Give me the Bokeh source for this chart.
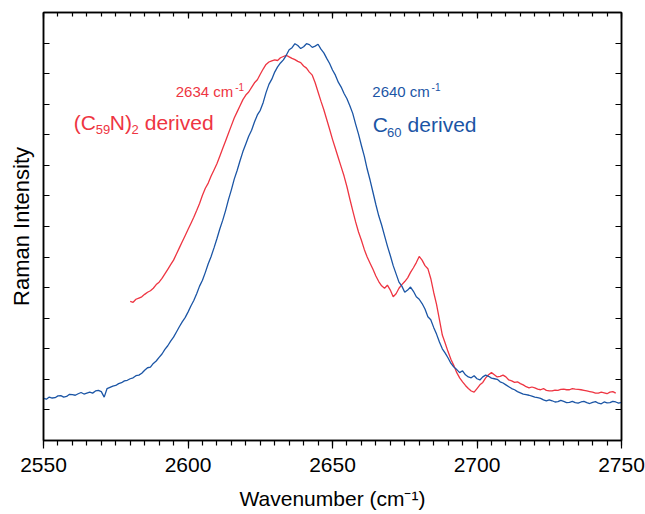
from bokeh.plotting import figure
from bokeh.models import Range1d, LinearAxis, SingleIntervalTicker, Label, CustomJSTickFormatter
from bokeh.embed import file_html
from bokeh.resources import INLINE

# ---------------- data ----------------
c60_start = 2550
c60_intensity = [
    1.38, 1.35, 1.42, 1.39, 1.40, 1.46, 1.47, 1.42, 1.44, 1.51,
    1.50, 1.48, 1.53, 1.57, 1.52, 1.55, 1.58, 1.55, 1.62, 1.64,
    1.60, 1.42, 1.70, 1.74, 1.78, 1.80, 1.86, 1.89, 1.95, 1.97,
    2.02, 2.05, 2.12, 2.14, 2.20, 2.30, 2.38, 2.40, 2.52, 2.60,
    2.72, 2.83, 2.98, 3.10, 3.25, 3.38, 3.55, 3.72, 3.88, 4.02,
    4.20, 4.40, 4.58, 4.80, 5.05, 5.24, 5.50, 5.78, 6.02, 6.30,
    6.60, 6.92, 7.20, 7.52, 7.88, 8.20, 8.55, 8.83, 9.15, 9.45,
    9.70, 9.95, 10.15, 10.42, 10.65, 10.80, 11.05, 11.38, 11.65, 11.82,
    12.05, 12.22, 12.35, 12.45, 12.60, 12.78, 12.85, 12.98, 12.92, 12.82,
    12.88, 12.98, 12.95, 12.86, 12.90, 12.96, 12.80, 12.68, 12.50, 12.33,
    12.12, 11.95, 11.72, 11.56, 11.35, 11.18, 10.95, 10.70, 10.35, 10.02,
    9.65, 9.30, 8.88, 8.52, 8.12, 7.72, 7.35, 7.05, 6.70, 6.36,
    6.05, 5.72, 5.45, 5.18, 5.05, 4.85, 4.92, 5.02, 4.88, 4.70,
    4.62, 4.48, 4.30, 4.05, 3.95, 3.70, 3.48, 3.22, 3.00, 2.86,
    2.70, 2.52, 2.40, 2.32, 2.22, 2.28, 2.15, 2.08, 2.05, 2.12,
    2.02, 1.98, 2.08, 2.14, 2.10, 2.04, 2.02, 2.00, 1.92, 1.88,
    1.82, 1.76, 1.70, 1.66, 1.60, 1.56, 1.52, 1.50, 1.48, 1.45,
    1.42, 1.40, 1.38, 1.33, 1.30, 1.33, 1.30, 1.26, 1.27, 1.31,
    1.28, 1.24, 1.25, 1.28, 1.24, 1.22, 1.26, 1.28, 1.24, 1.21,
    1.25, 1.27, 1.22, 1.20, 1.26, 1.23, 1.24, 1.28, 1.26, 1.22,
    1.25,
]
c60_wavenumber = [c60_start + i for i in range(len(c60_intensity))]

c59n_start = 2580
c59n_intensity = [
    4.55, 4.52, 4.62, 4.66, 4.70, 4.78, 4.85, 4.90, 4.98, 5.10,
    5.18, 5.30, 5.45, 5.60, 5.75, 5.90, 6.10, 6.30, 6.50, 6.70,
    6.90, 7.10, 7.30, 7.52, 7.75, 8.02, 8.25, 8.42, 8.65, 8.85,
    9.05, 9.30, 9.55, 9.80, 10.05, 10.30, 10.55, 10.75, 10.95, 11.15,
    11.30, 11.40, 11.55, 11.70, 11.80, 11.98, 12.15, 12.30, 12.38, 12.42,
    12.45, 12.43, 12.52, 12.56, 12.60, 12.55, 12.50, 12.46, 12.40, 12.36,
    12.25, 12.18, 12.05, 11.95, 11.70, 11.40, 11.10, 10.82, 10.50, 10.18,
    9.85, 9.55, 9.25, 8.95, 8.65, 8.30, 7.90, 7.52, 7.15, 6.82,
    6.55, 6.25, 6.00, 5.80, 5.60, 5.38, 5.20, 5.06, 4.98, 5.08,
    4.92, 4.70, 4.80, 4.98, 5.10, 5.20, 5.32, 5.50, 5.65, 5.82,
    6.02, 5.90, 5.72, 5.62, 5.30, 4.85, 4.45, 3.95, 3.45, 3.18,
    2.90, 2.65, 2.45, 2.22, 2.05, 1.92, 1.80, 1.70, 1.62, 1.58,
    1.70, 1.82, 1.90, 2.05, 2.15, 2.22, 2.15, 2.08, 2.10, 2.14,
    2.08, 1.98, 1.95, 1.90, 1.92, 1.86, 1.82, 1.76, 1.72, 1.75,
    1.72, 1.68, 1.66, 1.70, 1.64, 1.62, 1.62, 1.65, 1.64, 1.67,
    1.68, 1.66, 1.66, 1.70, 1.68, 1.67, 1.66, 1.64, 1.62, 1.60,
    1.58, 1.55, 1.55, 1.58, 1.56, 1.53, 1.58, 1.60, 1.55,
]
c59n_wavenumber = [c59n_start + i for i in range(len(c59n_intensity))]

x_limits = [2550, 2750]
y_limits = [0, 14]

RED = "#EE3542"
BLUE = "#1B55A5"
FONT = "Liberation Sans"

# ---------------- figure ----------------
p = figure(width=645, height=514, output_backend="svg", toolbar_location=None,
           x_range=Range1d(*x_limits), y_range=Range1d(*y_limits),
           min_border_left=43, min_border_right=24, min_border_top=12,
           min_border_bottom=74)
p.background_fill_color = "white"
p.border_fill_color = "white"
p.grid.visible = False
p.outline_line_color = "black"
p.outline_line_width = 1.5

xt = SingleIntervalTicker(interval=50, num_minor_ticks=10)
yt = SingleIntervalTicker(interval=1, num_minor_ticks=0)
blank = CustomJSTickFormatter(code="return ''")

xa = p.xaxis[0]
xa.ticker = xt
xa.axis_line_width = 1.5
xa.major_tick_out = 8
xa.major_tick_in = 0
xa.minor_tick_out = 5
xa.minor_tick_in = 0
xa.major_tick_line_width = 1.2
xa.minor_tick_line_width = 1.2
xa.major_label_text_font = FONT
xa.major_label_text_font_size = "21px"
xa.major_label_text_color = "black"
xa.major_label_standoff = 9
xa.axis_label = "Wavenumber (cm\u207b\u00b9)"
xa.axis_label_text_font = FONT
xa.axis_label_text_font_size = "21px"
xa.axis_label_text_font_style = "normal"
xa.axis_label_text_color = "black"
xa.axis_label_standoff = 12

ya = p.yaxis[0]
ya.ticker = yt
ya.formatter = blank
ya.axis_line_width = 1.5
ya.major_tick_in = 6
ya.major_tick_out = 0
ya.minor_tick_in = 0
ya.minor_tick_out = 0
ya.major_tick_line_width = 1.2
ya.axis_label = "Raman Intensity"
ya.axis_label_text_font = FONT
ya.axis_label_text_font_size = "22px"
ya.axis_label_text_font_style = "normal"
ya.axis_label_text_color = "black"
ya.axis_label_standoff = 10

top = LinearAxis(ticker=SingleIntervalTicker(interval=50, num_minor_ticks=10), formatter=blank,
                 major_tick_in=6, major_tick_out=0, minor_tick_in=4, minor_tick_out=0,
                 axis_line_width=1.5, major_tick_line_width=1.2, minor_tick_line_width=1.2)
p.add_layout(top, "above")
right = LinearAxis(ticker=SingleIntervalTicker(interval=1, num_minor_ticks=0), formatter=blank,
                   major_tick_in=6, major_tick_out=0, minor_tick_in=0, minor_tick_out=0,
                   axis_line_width=1.5, major_tick_line_width=1.2)
p.add_layout(right, "right")

# ---------------- curves ----------------
p.line(c59n_wavenumber, c59n_intensity, line_color=RED, line_width=1.3)
p.line(c60_wavenumber, c60_intensity, line_color=BLUE, line_width=1.3)

# ---------------- text ----------------
def fx(px):
    return 2550 + (px - 42.7) / 2.8915

def fy(py):
    return (440 - py) / 30.571

def put(text, px, py, size, color):
    p.add_layout(Label(x=fx(px), y=fy(py), text=text, text_font=FONT,
                       text_font_size=size, text_color=color,
                       text_baseline="alphabetic", text_align="left"))

# red annotations
put("2634 cm", 175, 91, "15px", RED)
put("-1", 234.5, 87, "10px", RED)
put("(C", 73, 122.5, "21px", RED)
put("59", 95, 129, "13px", RED)
put("N)", 109, 122.5, "21px", RED)
put("2", 130.7, 129, "13px", RED)
put("derived", 144, 122.5, "21px", RED)

# blue annotations
put("2640 cm", 371.7, 91, "15px", BLUE)
put("-1", 431, 87, "10px", BLUE)
put("C", 372, 124.5, "21px", BLUE)
put("60", 386.3, 132, "13px", BLUE)
put("derived", 407, 124.5, "21px", BLUE)

open("out.html", "w").write(file_html(p, INLINE))
